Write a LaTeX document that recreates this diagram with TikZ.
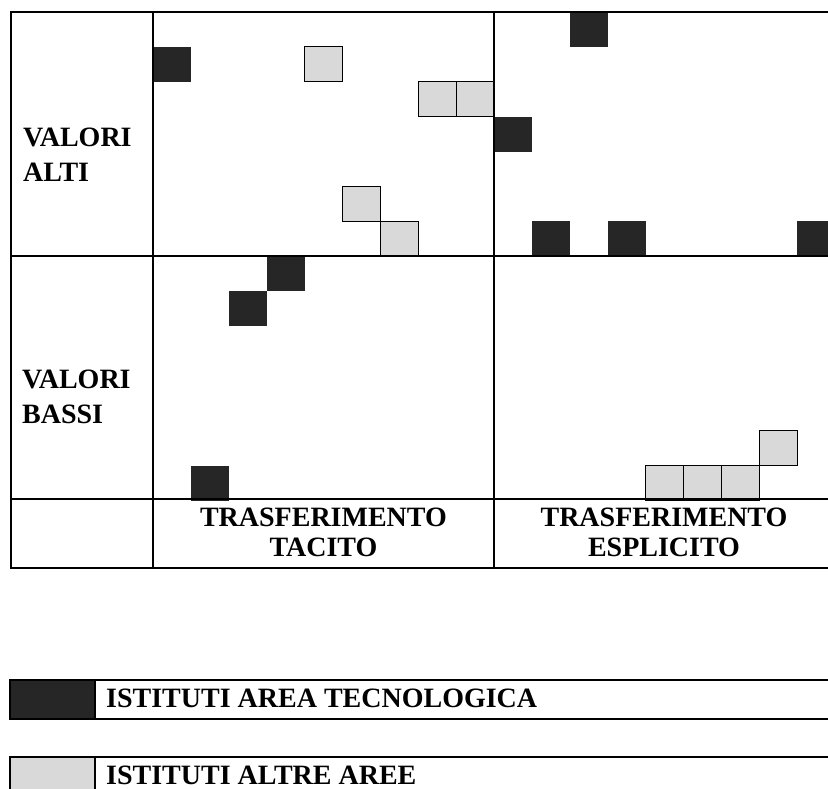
\documentclass[tikz,border=0pt]{standalone}
\usepackage{fontspec}
\setmainfont{Liberation Serif}
\usepackage{tikz}

\begin{document}
\begin{tikzpicture}[x=1pt,y=-1pt,
	blk/.style={fill=black!85},
	gry/.style={fill=black!15, draw=black, line width=1pt},
	grid/.style={draw=black, line width=1.2pt},
	lbl/.style={inner sep=0pt, font=\bfseries\fontsize{28}{35}\selectfont}]

 \useasboundingbox (0,0) rectangle (828,789);
 \clip (0,0) rectangle (828,789);

	 \foreach \c/\r in {0/1,11/0,9/3,10/6,12/6,17/6,3/7,2/8,1/13} {
	  \fill [blk] (153+\c*37.9,12+\r*34.9) rectangle ++(37.9,34.9);
	  }
	 \foreach \c/\r in {4/1,7/2,8/2,5/5,6/6,13/13,14/13,15/13,16/12} {
	  \filldraw [gry] (153+\c*37.9,12+\r*34.9) rectangle ++(37.9,34.9);
	  }

 \draw [grid] (11,12) rectangle (835,568);
 \draw [grid] (153,12) -- (153,568);
 \draw [grid] (494,12) -- (494,568);
 \draw [grid] (11,256) -- (835,256);
 \draw [grid] (11,499) -- (835,499);

 \node (alti) at (23,128) [lbl, anchor=north west, align=left] {VALORI\\ALTI};
 \node (bassi) at (22,370) [lbl, anchor=north west, align=left] {VALORI\\BASSI};
 \node (tacito) at (323.5,508) [lbl, anchor=north, align=center, font=\bfseries\fontsize{28}{30}\selectfont] {TRASFERIMENTO\\TACITO};
 \node (esplicito) at (664,508) [lbl, anchor=north, align=center, font=\bfseries\fontsize{28}{30}\selectfont] {TRASFERIMENTO\\ESPLICITO};

 \fill [blk] (10,680) rectangle (95,719);
 \draw [grid] (10,680) rectangle (850,719);
 \draw [grid] (95,680) -- (95,719);
 \node (tecno) at (106,689) [lbl, anchor=north west] {ISTITUTI AREA TECNOLOGICA};

 \fill [gry, draw=none] (10,757) rectangle (95,799);
 \draw [grid] (10,757) rectangle (850,799);
 \draw [grid] (95,757) -- (95,799);
 \node (altre) at (106,766) [lbl, anchor=north west] {ISTITUTI ALTRE AREE};
 \end{tikzpicture}
\end{document}
